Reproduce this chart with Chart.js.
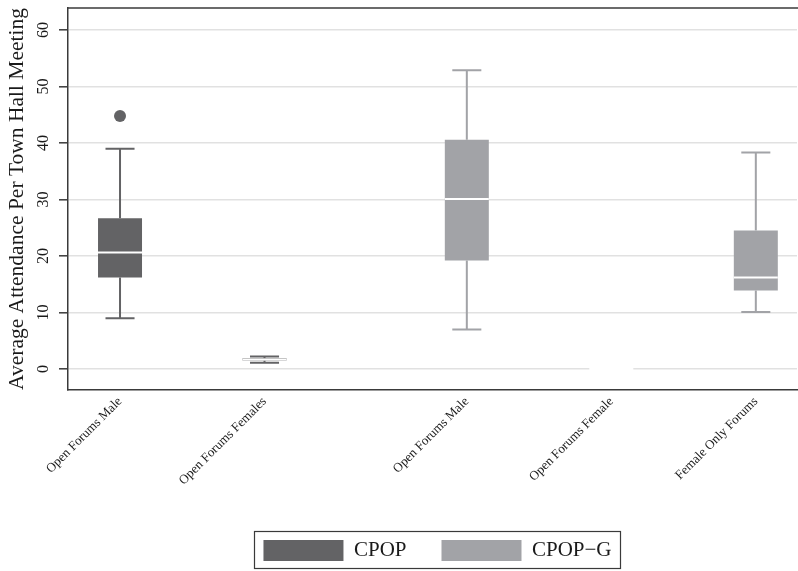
<!DOCTYPE html>
<html>
<head>
<meta charset="utf-8">
<title>Town hall attendance</title>
<script src="https://cdn.jsdelivr.net/npm/chart.js@4.4.1/dist/chart.umd.min.js"></script>
<style>
  html, body { margin:0; padding:0; background:#fff; }
</style>
</head>
<body>
<canvas id="chart" width="798" height="571"></canvas>
<script>
// ── data ──
const categories  = ['Open Forums Male', 'Open Forums Females', 'Open Forums Male', 'Open Forums Female', 'Female Only Forums'];
const groups      = ['CPOP', 'CPOP', 'CPOP−G', 'CPOP−G', 'CPOP−G'];
const groupNames  = ['CPOP', 'CPOP−G'];
const whiskerLow  = [9.0, 1.1, 7.0, 0, 10.1];
const q1          = [16.2, 1.5, 19.2, 0, 13.9];
const median      = [20.6, 1.7, 30.1, 0, 16.2];
const q3          = [26.7, 1.9, 40.6, 0, 24.5];
const whiskerHigh = [39.0, 2.2, 52.9, 0, 38.3];
const outliers    = [[44.8], [], [], [], []];
const yTicks      = [0, 10, 20, 30, 40, 50, 60];

// ── style ──
const COLORS = ['#636365', '#a2a3a7'];
const AXIS   = '#3a3a3a';
const GRID   = '#e1e1e1';
const TEXT   = '#1a1a1a';
const GROUP_GAP = 0.4;   // extra space between the two programmes

Chart.defaults.font.family = "'Liberation Serif', 'Times New Roman', serif";
Chart.defaults.color = TEXT;

// box centres on the x axis, with a gap where the group changes
const xPos = [];
let shift = 0;
categories.forEach((c, i) => {
  if (i > 0 && groups[i] !== groups[i - 1]) shift += GROUP_GAP;
  xPos.push(i + 1 + shift);
});
const colorOf = i => COLORS[groupNames.indexOf(groups[i])];

const boxSets = groupNames.map((g, gi) => ({
  label: g,
  data: categories.map((c, i) => groups[i] === g ? { x: xPos[i], y: [q1[i], q3[i]], i } : null).filter(Boolean),
  backgroundColor: COLORS[gi],
  borderWidth: 0,
  grouped: false,
  barPercentage: 0.5,
  categoryPercentage: 1,
  maxBarThickness: 44,
}));

const outlierPts = [];
outliers.forEach((arr, i) => arr.forEach(v => outlierPts.push({ x: xPos[i], y: v, i })));
const outlierSet = {
  type: 'scatter',
  label: 'outliers',
  data: outlierPts,
  pointRadius: 6,
  pointHoverRadius: 6,
  pointBorderWidth: 0,
  pointBackgroundColor: outlierPts.map(p => colorOf(p.i)),
};

// whiskers under the boxes, white medians on top, frame + legend border
const boxPlot = {
  id: 'boxPlot',
  afterLayout(chart) {
    // centre the legend a touch right of the plot centre, like the original
    if (chart.legend) { chart.legend.left += 5; chart.legend.right += 5; }
  },
  beforeDatasetsDraw(chart) {
    const { ctx } = chart, y = chart.scales.y;
    ctx.save();
    ctx.lineWidth = 2;
    boxSets.forEach((ds, d) => {
      chart.getDatasetMeta(d).data.forEach((el, j) => {
        const i = ds.data[j].i;
        const cap = el.width * 0.33;
        ctx.strokeStyle = colorOf(i);
        ctx.beginPath();
        ctx.moveTo(el.x, y.getPixelForValue(whiskerLow[i]));
        ctx.lineTo(el.x, y.getPixelForValue(q1[i]));
        ctx.moveTo(el.x, y.getPixelForValue(q3[i]));
        ctx.lineTo(el.x, y.getPixelForValue(whiskerHigh[i]));
        ctx.moveTo(el.x - cap, y.getPixelForValue(whiskerLow[i]));
        ctx.lineTo(el.x + cap, y.getPixelForValue(whiskerLow[i]));
        ctx.moveTo(el.x - cap, y.getPixelForValue(whiskerHigh[i]));
        ctx.lineTo(el.x + cap, y.getPixelForValue(whiskerHigh[i]));
        ctx.stroke();
      });
    });
    ctx.restore();
  },
  afterDatasetsDraw(chart) {
    const { ctx } = chart, y = chart.scales.y;
    ctx.save();
    ctx.strokeStyle = '#ffffff';
    ctx.lineWidth = 2;
    boxSets.forEach((ds, d) => {
      chart.getDatasetMeta(d).data.forEach((el, j) => {
        const i = ds.data[j].i;
        const py = y.getPixelForValue(median[i]);
        ctx.beginPath();
        ctx.moveTo(el.x - el.width / 2, py);
        ctx.lineTo(el.x + el.width / 2, py);
        ctx.stroke();
      });
    });
    ctx.restore();
  },
  afterDraw(chart) {
    const { ctx, chartArea: a } = chart;
    ctx.save();
    ctx.strokeStyle = AXIS;
    ctx.lineWidth = 1.5;
    ctx.beginPath();
    ctx.moveTo(a.left, a.top);
    ctx.lineTo(a.right + 1, a.top);
    ctx.stroke();
    const hb = chart.legend && chart.legend.legendHitBoxes;
    if (hb && hb.length) {
      const last = hb[hb.length - 1];
      const l = hb[0].left - 9, r = last.left + last.width + 9;
      const t = hb[0].top - 9, b = hb[0].top + hb[0].height + 7;
      ctx.lineWidth = 1.2;
      ctx.strokeRect(Math.round(l) + 0.5, Math.round(t) + 0.5, Math.round(r - l), Math.round(b - t));
    }
    ctx.restore();
  }
};

new Chart(document.getElementById('chart'), {
  type: 'bar',
  data: { datasets: [...boxSets, outlierSet] },
  options: {
    responsive: false,
    animation: false,
    devicePixelRatio: 1,
    layout: { autoPadding: false, padding: { top: 8, left: 4, right: 1, bottom: 0 } },
    plugins: {
      tooltip: { enabled: false },
      legend: {
        position: 'bottom',
        fullSize: false,
        labels: {
          filter: item => item.datasetIndex < groupNames.length,
          boxWidth: 80,
          boxHeight: 21,
          padding: 35,
          color: TEXT,
          font: { size: 21 },
        },
      },
    },
    scales: {
      x: {
        type: 'linear',
        offset: false,
        min: 0.64,
        max: 5.685,
        afterBuildTicks: s => { s.ticks = xPos.map(v => ({ value: v })); },
        afterFit: s => { s.height = 115; s.paddingLeft = 0; s.paddingRight = 0; },
        grid: { display: false },
        border: { display: true, color: AXIS, width: 1.5 },
        ticks: {
          autoSkip: false,
          minRotation: 45,
          maxRotation: 45,
          padding: -4,
          color: TEXT,
          font: { size: 13 },
          callback: (v, idx) => categories[idx],
        },
      },
      y: {
        min: -3.72,
        max: 63.9,
        afterBuildTicks: s => { s.ticks = yTicks.map(v => ({ value: v })); },
        afterFit: s => { s.width = 64; s.paddingTop = 0; s.paddingBottom = 0; },
        grid: { color: GRID, lineWidth: 1.6, tickColor: AXIS, tickLength: 9, tickWidth: 1.5 },
        border: { color: AXIS, width: 1.5 },
        ticks: {
          minRotation: 90,
          maxRotation: 90,
          crossAlign: 'center',
          padding: 7,
          color: TEXT,
          font: { size: 16 },
        },
        title: {
          display: true,
          text: 'Average Attendance Per Town Hall Meeting',
          color: TEXT,
          font: { size: 21.5 },
          padding: { top: 0, bottom: 0 },
        },
      },
    },
  },
  plugins: [boxPlot],
});
</script>
</body>
</html>
